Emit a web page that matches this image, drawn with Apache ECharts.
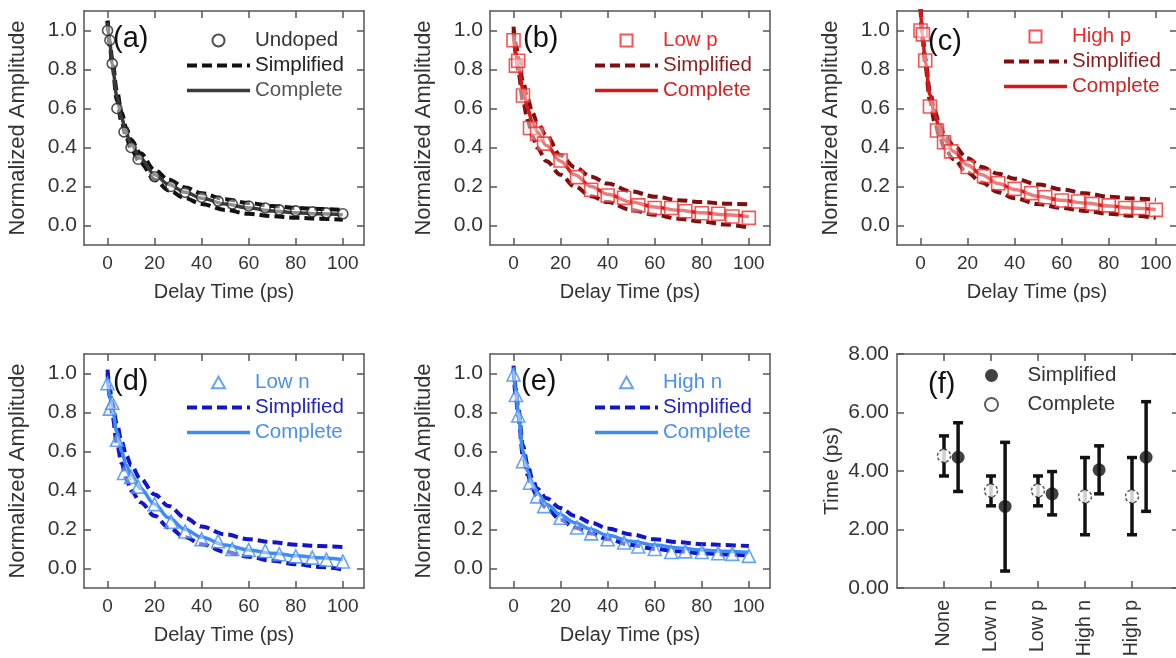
<!DOCTYPE html>
<html lang="en">
<head>
<meta charset="UTF-8">
<title>Decay fits</title>
<script src="https://cdn.jsdelivr.net/npm/echarts@6/dist/echarts.min.js"></script>
<style>
  html, body { margin: 0; padding: 0; background: #fff; }
</style>
</head>
<body>
<div id="main" style="width:1176px;height:658px;"></div>
<script>
// tick labels
var xTicks = [0, 20, 40, 60, 80, 100];
var yTicks = [0, 0.2, 0.4, 0.6, 0.8, 1.0];
var fTicks = [0, 2, 4, 6, 8];

// delay times of the measured points and of the fit curves (ps)
var markX = [0, 1, 2, 4, 7, 10, 13, 20, 27, 33, 40, 47, 53, 60, 67, 73, 80, 87, 93, 100];
var fitX = [0, 1, 2, 4, 6, 8, 10, 14, 20, 26, 33, 40, 50, 60, 70, 80, 90, 100];

// (a) undoped
var aMark = [1.0, 0.95, 0.83, 0.6, 0.48, 0.40, 0.34, 0.25, 0.20, 0.17, 0.145, 0.125, 0.11, 0.10, 0.09, 0.08, 0.075, 0.07, 0.065, 0.06];
var aUp = [1.05, 0.94, 0.85, 0.69, 0.58, 0.50, 0.44, 0.37, 0.285, 0.235, 0.195, 0.165, 0.135, 0.115, 0.10, 0.09, 0.085, 0.08];
var aLo = [1.05, 0.92, 0.82, 0.64, 0.53, 0.45, 0.39, 0.32, 0.235, 0.18, 0.14, 0.11, 0.08, 0.06, 0.048, 0.04, 0.035, 0.03];
var aComp = [1.04, 0.93, 0.83, 0.66, 0.55, 0.47, 0.415, 0.345, 0.26, 0.21, 0.17, 0.14, 0.11, 0.09, 0.075, 0.066, 0.06, 0.055];

// (b) low p
var bMark = [0.95, 0.82, 0.845, 0.667, 0.50, 0.47, 0.42, 0.333, 0.248, 0.183, 0.154, 0.142, 0.103, 0.09, 0.09, 0.073, 0.063, 0.06, 0.046, 0.039];
var bUp = [1.02, 0.93, 0.86, 0.74, 0.65, 0.58, 0.53, 0.46, 0.36, 0.30, 0.25, 0.215, 0.175, 0.148, 0.13, 0.12, 0.112, 0.108];
var bLo = [1.0, 0.88, 0.79, 0.64, 0.54, 0.46, 0.40, 0.33, 0.26, 0.20, 0.15, 0.12, 0.08, 0.055, 0.035, 0.02, 0.005, -0.01];
var bComp = [0.97, 0.88, 0.82, 0.70, 0.60, 0.53, 0.48, 0.41, 0.33, 0.26, 0.20, 0.16, 0.12, 0.095, 0.078, 0.065, 0.055, 0.045];

// (c) high p
var cMark = [1.0, 0.98, 0.846, 0.61, 0.487, 0.427, 0.38, 0.30, 0.253, 0.217, 0.188, 0.166, 0.145, 0.128, 0.123, 0.111, 0.103, 0.09, 0.09, 0.08];
var cUp = [1.12, 0.96, 0.86, 0.69, 0.59, 0.52, 0.47, 0.41, 0.345, 0.30, 0.265, 0.24, 0.21, 0.185, 0.165, 0.148, 0.138, 0.132];
var cLo = [1.12, 0.94, 0.82, 0.64, 0.53, 0.46, 0.40, 0.34, 0.27, 0.22, 0.17, 0.14, 0.11, 0.09, 0.075, 0.06, 0.05, 0.04];
var cComp = [1.12, 0.95, 0.84, 0.67, 0.57, 0.50, 0.44, 0.38, 0.31, 0.26, 0.215, 0.185, 0.15, 0.13, 0.115, 0.10, 0.09, 0.082];

// (d) low n
var dMark = [0.95, 0.82, 0.85, 0.66, 0.49, 0.47, 0.42, 0.33, 0.24, 0.19, 0.15, 0.14, 0.10, 0.095, 0.09, 0.073, 0.062, 0.056, 0.045, 0.036];
var dUp = [1.02, 0.92, 0.85, 0.74, 0.65, 0.58, 0.53, 0.46, 0.38, 0.32, 0.26, 0.215, 0.175, 0.15, 0.135, 0.122, 0.115, 0.11];
var dLo = [1.0, 0.88, 0.79, 0.64, 0.54, 0.46, 0.40, 0.34, 0.27, 0.21, 0.16, 0.125, 0.085, 0.06, 0.04, 0.022, 0.008, -0.005];
var dComp = [0.97, 0.88, 0.82, 0.70, 0.60, 0.53, 0.48, 0.41, 0.33, 0.26, 0.20, 0.16, 0.12, 0.095, 0.078, 0.065, 0.055, 0.045];

// (e) high n
var eMark = [0.995, 0.89, 0.785, 0.55, 0.44, 0.37, 0.32, 0.26, 0.21, 0.18, 0.15, 0.133, 0.113, 0.10, 0.085, 0.088, 0.085, 0.078, 0.075, 0.065];
var eUp = [1.04, 0.92, 0.82, 0.63, 0.53, 0.46, 0.41, 0.36, 0.31, 0.27, 0.235, 0.205, 0.175, 0.15, 0.135, 0.125, 0.12, 0.115];
var eLo = [1.02, 0.88, 0.78, 0.58, 0.48, 0.41, 0.37, 0.31, 0.25, 0.21, 0.18, 0.15, 0.12, 0.10, 0.088, 0.078, 0.072, 0.066];
var eComp = [1.03, 0.90, 0.80, 0.60, 0.50, 0.43, 0.39, 0.33, 0.275, 0.235, 0.20, 0.17, 0.14, 0.12, 0.105, 0.095, 0.088, 0.082];

// (f) fitted times
var categories = ['None', 'Low n', 'Low p', 'High n', 'High p'];
var compVal = [4.52, 3.33, 3.33, 3.13, 3.13];
var compLo = [3.83, 2.81, 2.81, 1.82, 1.82];
var compHi = [5.20, 3.83, 3.83, 4.46, 4.46];
var simpVal = [4.47, 2.79, 3.22, 4.04, 4.47];
var simpLo = [3.30, 0.58, 2.50, 3.22, 2.62];
var simpHi = [5.65, 4.98, 3.98, 4.86, 6.37];

var FONT = '"Liberation Sans", Arial, sans-serif';
var AX = '#555';
var TXT = '#333';

function pairs(xs, ys) {
    return xs.map(function (x, i) { return [x, ys[i]]; });
}

// legend icons drawn inside a 63 x 12 box so they keep their shape
var ICON = {
    circle: 'circle',
    rect: 'path://M0,6L0,6M63,6L63,6M25.5,0L37.5,0L37.5,12L25.5,12Z',
    triangle: 'path://M0,6L0,6M63,6L63,6M25,12L31.5,0.5L38,12Z'
};

var RED = { dark: '#7d0f0f', comp: '#d81818', mark: '#f02a2a', t1: '#f02828', t2: '#8b1c1c', t3: '#d42020' };
var BLUE = { dark: '#1414c8', comp: '#3d8cf5', mark: '#3d8cf5', t1: '#4a90f0', t2: '#2222c0', t3: '#4a90f0' };

var panels = [
    { key: 'a', left: 84, top: 11, label: '(a)', lab: [113, 24], leg: [185, 30], name: 'Undoped', sym: 'circle', size: 10,
      c: { dark: '#111', comp: '#3a3a3a', mark: '#222', t1: '#333', t2: '#222', t3: '#555' }, m: aMark, up: aUp, lo: aLo, cp: aComp },
    { key: 'b', left: 490, top: 11, label: '(b)', lab: [523, 24], leg: [593, 30], name: 'Low p', sym: 'rect', size: 13,
      c: RED, m: bMark, up: bUp, lo: bLo, cp: bComp },
    { key: 'c', left: 897, top: 11, label: '(c)', lab: [928, 27], leg: [1002, 26], name: 'High p', sym: 'rect', size: 13,
      c: RED, m: cMark, up: cUp, lo: cLo, cp: cComp },
    { key: 'd', left: 84, top: 354, label: '(d)', lab: [113, 367], leg: [185, 372], name: 'Low n', sym: 'triangle', size: 13,
      c: BLUE, m: dMark, up: dUp, lo: dLo, cp: dComp },
    { key: 'e', left: 490, top: 354, label: '(e)', lab: [521, 367], leg: [593, 372], name: 'High n', sym: 'triangle', size: 13,
      c: BLUE, m: eMark, up: eUp, lo: eLo, cp: eComp }
];

var grid = [], xAxis = [], yAxis = [], series = [], legend = [], title = [];

function tickStyle(vals) {
    return { show: true, inside: true, length: 7, customValues: vals, lineStyle: { color: AX, width: 1.5 } };
}
var axisLine = { show: true, onZero: false, lineStyle: { color: AX, width: 1.5 } };
var xLabelStyle = { color: TXT, fontSize: 19, fontFamily: FONT };
var yLabelStyle = { color: TXT, fontSize: 21, fontFamily: FONT };
var hideIcon = { opacity: 0 };

panels.forEach(function (p, i) {
    grid.push({ left: p.left, top: p.top, width: 280, height: 234, outerBoundsMode: 'none', containLabel: false });
    var xa = { type: 'value', gridIndex: i, min: -10, max: 109, splitLine: { show: false }, axisLine: axisLine, axisTick: tickStyle(xTicks) };
    xAxis.push(Object.assign({}, xa, {
        position: 'bottom',
        axisLabel: Object.assign({ customValues: xTicks, margin: 9 }, xLabelStyle),
        name: 'Delay Time (ps)', nameLocation: 'middle', nameGap: 37,
        nameTextStyle: { color: TXT, fontSize: 20, fontFamily: FONT }
    }));
    xAxis.push(Object.assign({}, xa, { position: 'top', axisLabel: { show: false } }));
    var ya = { type: 'value', gridIndex: i, min: -0.1, max: 1.1, splitLine: { show: false }, axisLine: axisLine, axisTick: tickStyle(yTicks) };
    yAxis.push(Object.assign({}, ya, {
        position: 'left',
        axisLabel: Object.assign({ customValues: yTicks, margin: 7, formatter: function (v) { return v.toFixed(1); } }, yLabelStyle),
        name: 'Normalized Amplitude', nameLocation: 'middle', nameGap: 55,
        nameTextStyle: { color: TXT, fontSize: 22, fontFamily: FONT }
    }));
    yAxis.push(Object.assign({}, ya, { position: 'right', axisLabel: { show: false } }));

    var common = { type: 'line', xAxisIndex: 2 * i, yAxisIndex: 2 * i, symbol: 'none', smooth: 0.35, smoothMonotone: 'x', clip: true, silent: true };
    var dash = { color: p.c.dark, width: 4, type: [10, 5], cap: 'butt' };
    var solid = { color: p.c.comp, width: 3.5 };
    series.push(Object.assign({ name: p.key + ':Simplified', data: pairs(fitX, p.up), lineStyle: dash, z: 2 }, common));
    series.push(Object.assign({ name: p.key + ':Simplified', data: pairs(fitX, p.lo), lineStyle: dash, z: 2 }, common));
    series.push(Object.assign({ name: p.key + ':Complete', data: pairs(fitX, p.cp), lineStyle: solid, z: 3 }, common));
    series.push({
        name: p.key + ':' + p.name, type: 'scatter', xAxisIndex: 2 * i, yAxisIndex: 2 * i,
        data: pairs(markX, p.m), symbol: p.sym, symbolSize: p.size, z: 4,
        itemStyle: { color: 'rgba(255,255,255,0.55)', borderColor: p.c.mark, borderWidth: 1.6 }
    });

    legend.push({
        left: p.leg[0], top: p.leg[1], orient: 'vertical', itemWidth: 63, itemHeight: 12, itemGap: 4,
        selectedMode: false, padding: 0,
        formatter: function (n) { return n.split(':')[1]; },
        textStyle: { fontSize: 20.5, fontFamily: FONT, lineHeight: 20 },
        data: [
            { name: p.key + ':' + p.name, icon: ICON[p.sym], textStyle: { color: p.c.t1 } },
            { name: p.key + ':Simplified', itemStyle: hideIcon, lineStyle: { width: 4, type: [10, 5], cap: 'butt' }, textStyle: { color: p.c.t2 } },
            { name: p.key + ':Complete', itemStyle: hideIcon, lineStyle: { width: 3.5 }, textStyle: { color: p.c.t3 } }
        ]
    });
    title.push({ text: p.label, left: p.lab[0], top: p.lab[1], padding: 0, textStyle: { color: '#111', fontSize: 29, fontWeight: 'normal', fontFamily: FONT } });
});

// (f) panel
var fi = panels.length;
grid.push({ left: 897, top: 354, width: 282, height: 234, outerBoundsMode: 'none', containLabel: false });
var catPos = categories.map(function (c, i) { return i + 1; });
var fx = { type: 'value', gridIndex: fi, min: 0, max: 6, splitLine: { show: false }, axisLine: axisLine, axisTick: tickStyle(catPos) };
xAxis.push(Object.assign({}, fx, {
    position: 'bottom',
    axisLabel: Object.assign({ customValues: catPos, rotate: 90, margin: 12, formatter: function (v) { return categories[v - 1]; } },
        { color: TXT, fontSize: 19.5, fontFamily: FONT })
}));
xAxis.push(Object.assign({}, fx, { position: 'top', axisLabel: { show: false } }));
var fy = { type: 'value', gridIndex: fi, min: 0, max: 8, interval: 2, splitLine: { show: false }, axisLine: axisLine, axisTick: tickStyle(fTicks) };
yAxis.push(Object.assign({}, fy, {
    position: 'left',
    axisLabel: Object.assign({ margin: 8, formatter: function (v) { return v.toFixed(2); } }, yLabelStyle),
    name: 'Time (ps)', nameLocation: 'middle', nameGap: 54,
    nameTextStyle: { color: TXT, fontSize: 21, fontFamily: FONT }
}));
yAxis.push(Object.assign({}, fy, { position: 'right', axisLabel: { show: false } }));

var errData = categories.map(function (c, i) { return [i + 1, compLo[i], compHi[i]]; })
    .concat(categories.map(function (c, i) { return [i + 1.3, simpLo[i], simpHi[i]]; }));

series.push({
    type: 'custom', xAxisIndex: 2 * fi, yAxisIndex: 2 * fi, data: errData, z: 2, silent: true,
    encode: { x: 0, y: [1, 2] },
    renderItem: function (params, api) {
        var x = api.value(0);
        var lo = api.coord([x, api.value(1)]);
        var hi = api.coord([x, api.value(2)]);
        var w = 5;
        var st = { stroke: '#111', lineWidth: 3.5 };
        return {
            type: 'group', children: [
                { type: 'line', shape: { x1: lo[0], y1: lo[1], x2: hi[0], y2: hi[1] }, style: st },
                { type: 'line', shape: { x1: lo[0] - w, y1: lo[1], x2: lo[0] + w, y2: lo[1] }, style: st },
                { type: 'line', shape: { x1: hi[0] - w, y1: hi[1], x2: hi[0] + w, y2: hi[1] }, style: st }
            ]
        };
    }
});
series.push({
    name: 'f:Simplified', type: 'scatter', xAxisIndex: 2 * fi, yAxisIndex: 2 * fi, z: 4,
    data: categories.map(function (c, i) { return [i + 1.3, simpVal[i]]; }),
    symbol: 'circle', symbolSize: 13, itemStyle: { color: '#111' }
});
series.push({
    name: 'f:Complete', type: 'scatter', xAxisIndex: 2 * fi, yAxisIndex: 2 * fi, z: 4,
    data: categories.map(function (c, i) { return [i + 1, compVal[i]]; }),
    symbol: 'circle', symbolSize: 13,
    itemStyle: { color: '#fff', borderColor: '#333', borderWidth: 1.5, borderType: [3, 2] }
});
legend.push({
    left: 984, top: 365, orient: 'vertical', itemWidth: 62, itemHeight: 13, itemGap: 8,
    selectedMode: false, padding: 0,
    formatter: function (n) { return n.split(':')[1]; },
    textStyle: { fontSize: 20.5, fontFamily: FONT, lineHeight: 20, color: TXT },
    data: ['f:Simplified', 'f:Complete']
});
title.push({ text: '(f)', left: 928, top: 370, padding: 0, textStyle: { color: '#111', fontSize: 29, fontWeight: 'normal', fontFamily: FONT } });

var myChart = echarts.init(document.getElementById('main'));
myChart.setOption({
    animation: false,
    backgroundColor: '#fff',
    title: title,
    legend: legend,
    grid: grid,
    xAxis: xAxis,
    yAxis: yAxis,
    series: series
});
</script>
</body>
</html>
